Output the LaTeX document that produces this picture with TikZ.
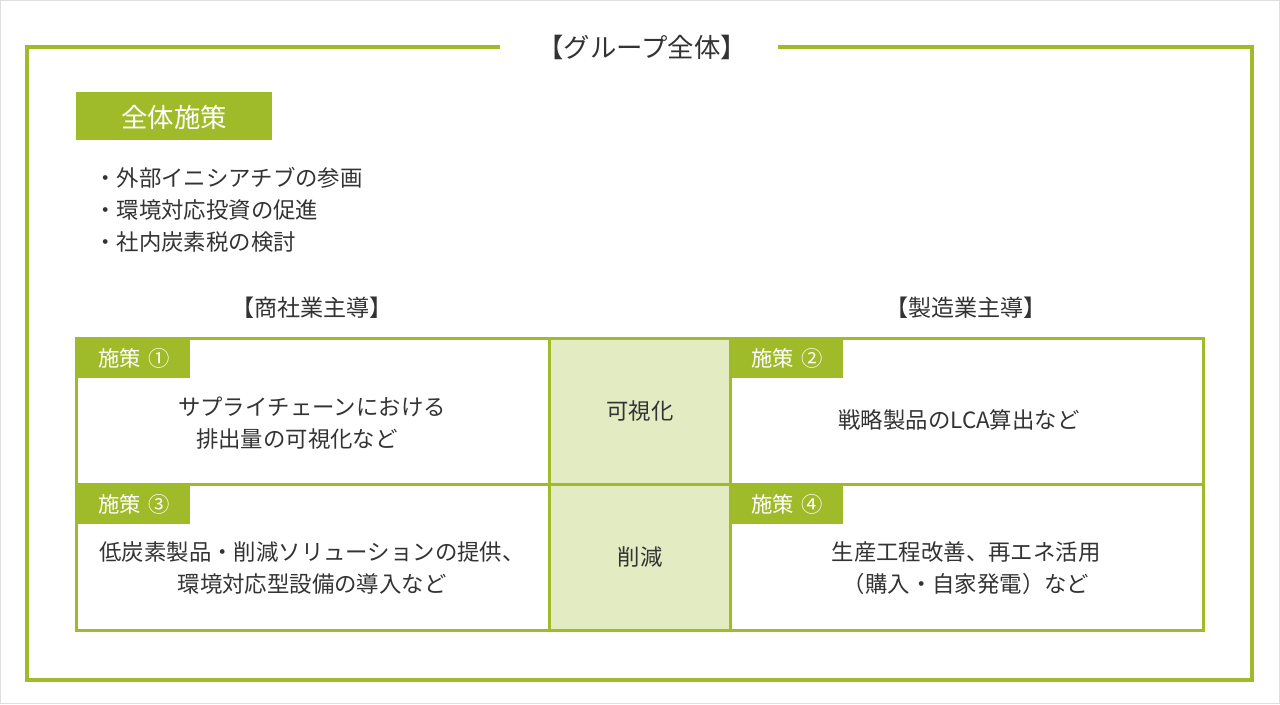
\documentclass[tikz,border=0pt]{standalone}
\usepackage{fontspec}
\setmainfont{Noto Sans CJK JP}
\definecolor{leaf}{HTML}{A0BB2A}
\definecolor{leaflight}{HTML}{E3EBC3}
\definecolor{ink}{HTML}{333333}
\newcommand\titlesize{\fontsize{19.8}{24}\selectfont}
\newcommand\headsize{\fontsize{17.3}{24}\selectfont}
\newcommand\bodysize{\fontsize{16.8}{24}\selectfont}
\newcommand\tagsize{\fontsize{16}{20}\selectfont}

\begin{document}
\begin{tikzpicture}[x = 0.75pt, y = -0.75pt, text = ink,
  frame/.style = {leaf, line width = 2.25pt},
  tagbox/.style = {fill = leaf},
  tagtext/.style = {white, font = \tagsize, inner sep = 0pt},
  celltext/.style = {font = \bodysize, align = center, inner sep = 0pt}]
\useasboundingbox (0, 0) rectangle (1280, 704);
% Image edge
\draw[gray!25, line width = 0.75pt] (0.5, 0.5) rectangle (1279.5, 703.5);
% Outer frame with title gap
\draw[leaf, line width = 3pt] (500, 47) -- (27, 47) -- (27, 680) -- (1252, 680) -- (1252, 47) -- (778, 47);
\node[font = \titlesize, inner sep = 0pt] (title) at (642, 47) {【グループ全体】};
% Overall measures
\fill[tagbox] (76, 92) rectangle (272, 140);
\node[white, font = \titlesize, inner sep = 0pt] (whole) at (174, 117) {全体施策};
\node[anchor = west, font = \bodysize, inner sep = 0pt] (item1) at (94, 178) {・外部イニシアチブの参画};
\node[anchor = west, font = \bodysize, inner sep = 0pt] (item2) at (94, 210) {・環境対応投資の促進};
\node[anchor = west, font = \bodysize, inner sep = 0pt] (item3) at (94, 242) {・社内炭素税の検討};
% Column headers
\node[font = \headsize, inner sep = 0pt] (trade) at (312, 308) {【商社業主導】};
\node[font = \headsize, inner sep = 0pt] (maker) at (966, 308) {【製造業主導】};
% Grid fills
\fill[leaflight] (549, 338) rectangle (730, 630);
\fill[tagbox] (76, 338) rectangle (190, 378);
\fill[tagbox] (730, 338) rectangle (843, 378);
\fill[tagbox] (76, 484) rectangle (190, 524);
\fill[tagbox] (730, 484) rectangle (843, 524);
% Grid lines
\draw[frame] (76, 338) rectangle (1203, 630);
\draw[frame] (549, 338) -- (549, 630);
\draw[frame] (730, 338) -- (730, 630);
\draw[frame] (76, 484) -- (1203, 484);
% Tags
\node[tagtext] (tag1) at (134, 358) {施策\hspace{0.35em}①};
\node[tagtext] (tag2) at (787, 358) {施策\hspace{0.35em}②};
\node[tagtext] (tag3) at (134, 504) {施策\hspace{0.35em}③};
\node[tagtext] (tag4) at (787, 504) {施策\hspace{0.35em}④};
% Cell texts
\node[celltext] (plan1) at (312, 423) {サプライチェーンにおける\\排出量の可視化など\hspace*{1.35em}};
\node[celltext] (plan2) at (959, 420) {戦略製品のLCA算出など};
\node[celltext] (plan3) at (312, 568) {低炭素製品・削減ソリューションの提供、\\環境対応型設備の導入など};
\node[celltext] (plan4) at (966, 568) {生産工程改善、再エネ活用\\（購入・自家発電）など};
\node[celltext] (see) at (640, 411) {可視化};
\node[celltext] (cut) at (640, 557) {削減};
\end{tikzpicture}
\end{document}
